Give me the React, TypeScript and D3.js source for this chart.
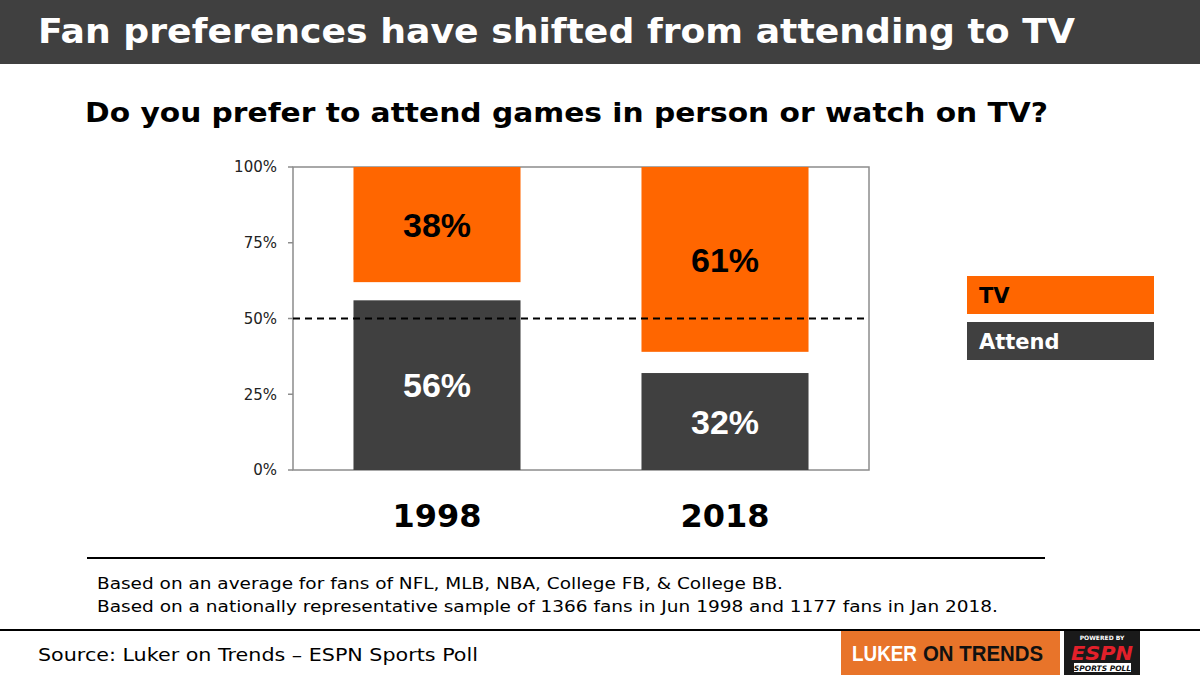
import { useMemo } from "react";
import * as d3 from "d3";

// ── Data ────────────────────────────────────────────────────────────────
const years = ["1998", "2018"];
const tvValues = [38, 61];
const attendValues = [56, 32];
const yTicks = [0, 25, 50, 75, 100];
const referenceLine = 50;
const legendItems = ["TV", "Attend"];
const footnotes = [
  "Based on an average for fans of NFL, MLB, NBA, College FB, & College BB.",
  "Based on a nationally representative sample of 1366 fans in Jun 1998 and 1177 fans in Jan 2018.",
];

const W = 1200;
const H = 675;
const PLOT = { left: 293, right: 869, top: 167, bottom: 470 };
const ORANGE = "#FF6600";
const DARK = "#404040";
const AXIS = "#8c8c8c";
const VERDANA = "Verdana, 'DejaVu Sans', sans-serif";
const NARROW = "'Liberation Sans Narrow', 'Arial Narrow', 'Liberation Sans', sans-serif";

export default function App() {
  const x = useMemo(
    () => d3.scaleBand<string>().domain(years).range([PLOT.left, PLOT.right]).paddingInner(0.42).paddingOuter(0.21),
    []
  );
  const y = useMemo(() => d3.scaleLinear().domain([0, 100]).range([PLOT.bottom, PLOT.top]), []);

  const bw = x.bandwidth();

  return (
    <svg
      width={W}
      height={H}
      style={{ position: "absolute", left: 0, top: 0, background: "#fff" }}
    >
      {/* title bar */}
      <rect x={0} y={0} width={W} height={64} fill={DARK} />
      <text
        x={38}
        y={43}
        fill="#fff"
        fontFamily={VERDANA}
        fontWeight="bold"
        fontSize={33}
        textLength={1037}
        lengthAdjust="spacingAndGlyphs"
      >
        Fan preferences have shifted from attending to TV
      </text>

      {/* subtitle */}
      <text
        x={85}
        y={122}
        fill="#000"
        fontFamily={VERDANA}
        fontWeight="bold"
        fontSize={27}
        textLength={963}
        lengthAdjust="spacingAndGlyphs"
      >
        Do you prefer to attend games in person or watch on TV?
      </text>

      {/* plot frame */}
      <rect
        x={PLOT.left}
        y={PLOT.top}
        width={PLOT.right - PLOT.left}
        height={PLOT.bottom - PLOT.top}
        fill="none"
        stroke={AXIS}
        strokeWidth={1.5}
      />

      {/* y ticks */}
      {yTicks.map((t) => (
        <g key={t}>
          <line x1={PLOT.left - 5} x2={PLOT.left} y1={y(t)} y2={y(t)} stroke={AXIS} strokeWidth={1.5} />
          <text
            x={PLOT.left - 16}
            y={y(t)}
            dy="0.36em"
            textAnchor="end"
            fontFamily={VERDANA}
            fontSize={15}
            fill="#222"
          >
            {t}%
          </text>
        </g>
      ))}

      {/* bars */}
      {years.map((yr, i) => {
        const x0 = x(yr)!;
        const cx = x0 + bw / 2;
        const tvTop = y(100);
        const tvBottom = y(100 - tvValues[i]);
        const atTop = y(attendValues[i]);
        return (
          <g key={yr}>
            <rect x={x0} y={tvTop} width={bw} height={tvBottom - tvTop} fill={ORANGE} />
            <rect x={x0} y={atTop} width={bw} height={y(0) - atTop} fill={DARK} />
            <text
              x={cx}
              y={(tvTop + tvBottom) / 2}
              dy="0.36em"
              textAnchor="middle"
              fontFamily={NARROW}
              fontWeight="bold"
              fontSize={34}
              fill="#000"
            >
              {tvValues[i]}%
            </text>
            <text
              x={cx}
              y={(atTop + y(0)) / 2}
              dy="0.36em"
              textAnchor="middle"
              fontFamily={NARROW}
              fontWeight="bold"
              fontSize={34}
              fill="#fff"
            >
              {attendValues[i]}%
            </text>
            <text
              x={cx}
              y={527}
              textAnchor="middle"
              fontFamily={VERDANA}
              fontWeight="bold"
              fontSize={32}
              fill="#000"
            >
              {yr}
            </text>
          </g>
        );
      })}

      {/* 50% reference line */}
      <line
        x1={PLOT.left}
        x2={PLOT.right}
        y1={y(referenceLine)}
        y2={y(referenceLine)}
        stroke="#000"
        strokeWidth={1.8}
        strokeDasharray="7 5"
      />

      {/* legend */}
      {legendItems.map((name, i) => (
        <g key={name} transform={`translate(967,${276 + i * 46})`}>
          <rect width={187} height={38} fill={i === 0 ? ORANGE : DARK} />
          <text
            x={12}
            y={27}
            fontFamily={VERDANA}
            fontWeight="bold"
            fontSize={21}
            fill={i === 0 ? "#000" : "#fff"}
          >
            {name}
          </text>
        </g>
      ))}

      {/* footnote rule */}
      <line x1={87} x2={1045} y1={558} y2={558} stroke="#000" strokeWidth={2} />
      {footnotes.map((f, i) => (
        <text
          key={i}
          x={97}
          y={589 + i * 23}
          fontFamily={VERDANA}
          fontSize={16}
          fill="#000"
          textLength={i === 0 ? 686 : 901}
          lengthAdjust="spacingAndGlyphs"
        >
          {f}
        </text>
      ))}

      {/* bottom rule + source */}
      <line x1={0} x2={W} y1={630} y2={630} stroke="#000" strokeWidth={2} />
      <text
        x={38}
        y={661}
        fontFamily={VERDANA}
        fontSize={18}
        fill="#000"
        textLength={440}
        lengthAdjust="spacingAndGlyphs"
      >
        Source: Luker on Trends – ESPN Sports Poll
      </text>

      {/* logos */}
      <rect x={841} y={631} width={219} height={44} fill="#E8742A" />
      <text
        x={852}
        y={661}
        fontFamily={NARROW}
        fontWeight="bold"
        fontSize={22}
        fill="#fff"
        textLength={65}
        lengthAdjust="spacingAndGlyphs"
      >
        LUKER
      </text>
      <text
        x={923}
        y={661}
        fontFamily={NARROW}
        fontWeight="bold"
        fontSize={22}
        fill="#111"
        textLength={120}
        lengthAdjust="spacingAndGlyphs"
      >
        ON TRENDS
      </text>
      <rect x={1064} y={631} width={76} height={44} fill="#1a1a1a" />
      <text x={1102} y={640} textAnchor="middle" fontFamily={VERDANA} fontWeight="bold" fontSize={6} fill="#fff">
        POWERED BY
      </text>
      <text
        x={1102}
        y={660}
        textAnchor="middle"
        fontFamily={VERDANA}
        fontWeight="bold"
        fontStyle="italic"
        fontSize={20}
        fill="#e3202a"
        textLength={62}
        lengthAdjust="spacingAndGlyphs"
      >
        ESPN
      </text>
      <rect x={1074} y={663} width={57} height={9} fill="#fff" />
      <text x={1102.5} y={670.5} textAnchor="middle" fontFamily={VERDANA} fontWeight="bold" fontStyle="italic" fontSize={7.5} fill="#111">
        SPORTS POLL
      </text>
    </svg>
  );
}
